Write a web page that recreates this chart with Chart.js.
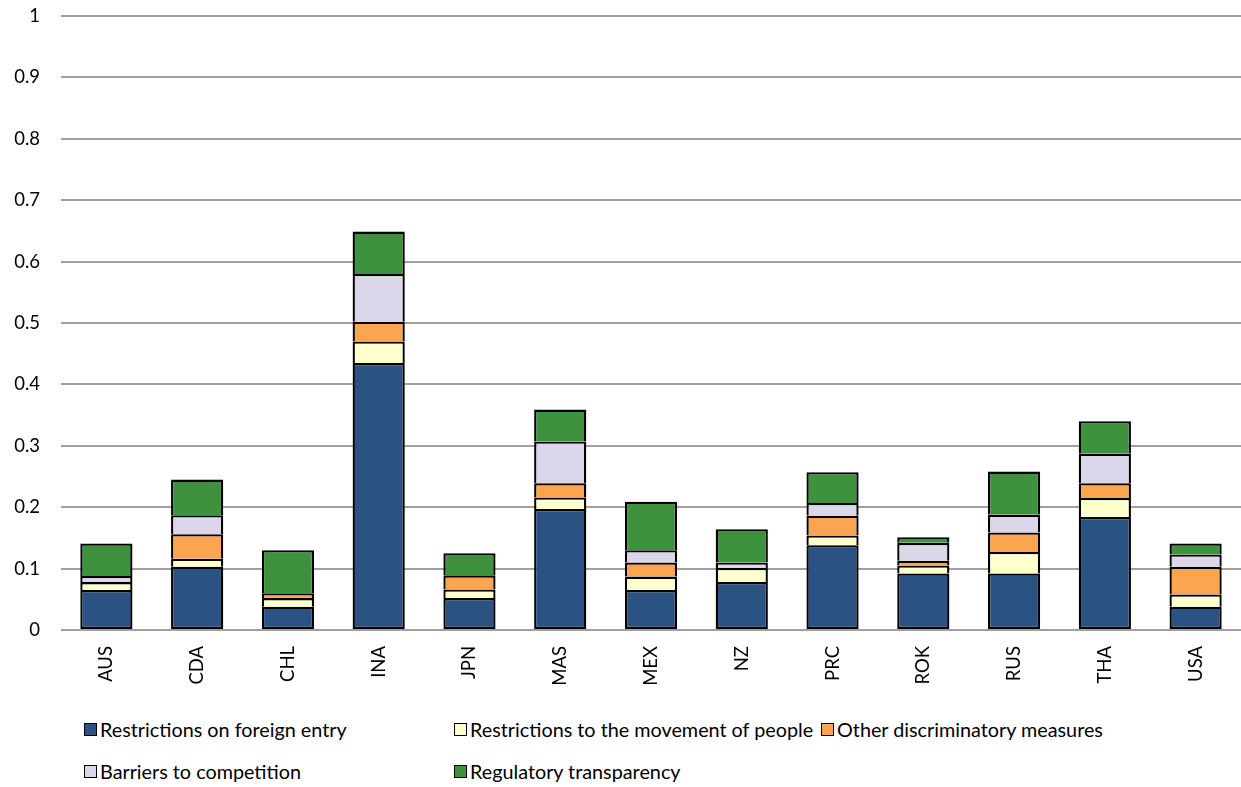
<!DOCTYPE html>
<html>
<head>
<meta charset="utf-8">
<script src="https://cdn.jsdelivr.net/npm/chart.js@4.4.1/dist/chart.umd.min.js"></script>
<style>
  html, body { margin: 0; padding: 0; background: #fff; overflow: hidden; }
  #wrap { position: relative; width: 1241px; height: 787px; overflow: hidden; }
  #chartBox { position: absolute; left: 0; top: -16px; width: 1241px; height: 716px; }
  .leg { position: absolute; font-family: Lato, "Open Sans", sans-serif; font-size: 19.8px; color: #000; white-space: nowrap; display: flex; align-items: center; }
  .leg .sw { width: 11px; height: 11px; border: 1.5px solid #000; margin-right: 3px; box-sizing: content-box; }
</style>
</head>
<body>
<div id="wrap">
  <div id="chartBox"><canvas id="c"></canvas></div>
</div>
<script>
const categories = ["AUS","CDA","CHL","INA","JPN","MAS","MEX","NZ","PRC","ROK","RUS","THA","USA"];
const seriesNames = [
  "Restrictions on foreign entry",
  "Restrictions to the movement of people",
  "Other discriminatory measures",
  "Barriers to competition",
  "Regulatory transparency"
];
const foreignEntry   = [0.065, 0.103, 0.038, 0.435, 0.052, 0.197, 0.065, 0.078, 0.138, 0.092, 0.092, 0.184, 0.038];
const movementPeople = [0.013, 0.013, 0.014, 0.035, 0.014, 0.019, 0.022, 0.023, 0.016, 0.013, 0.035, 0.031, 0.020];
const otherDiscrim   = [0.000, 0.040, 0.008, 0.032, 0.023, 0.023, 0.023, 0.000, 0.032, 0.008, 0.032, 0.024, 0.045];
const barriersComp   = [0.010, 0.031, 0.000, 0.078, 0.000, 0.068, 0.020, 0.009, 0.021, 0.029, 0.029, 0.048, 0.020];
const regTransp      = [0.053, 0.058, 0.070, 0.069, 0.036, 0.052, 0.079, 0.054, 0.050, 0.009, 0.070, 0.053, 0.018];
const yTicks = [0, 0.1, 0.2, 0.3, 0.4, 0.5, 0.6, 0.7, 0.8, 0.9, 1];

const colors = ["#2A5283", "#FFFFCC", "#FCA550", "#DCD6EA", "#3E923D"];
const seriesData = [foreignEntry, movementPeople, otherDiscrim, barriersComp, regTransp];

const FONT = "Lato, 'Open Sans', sans-serif";

const datasets = seriesData.map((d, i) => ({
  label: seriesNames[i],
  data: d,
  backgroundColor: colors[i],
  borderColor: "#000",
  borderWidth: (ctx) => (ctx.raw === 0 ? 0 : 2.3),
  borderSkipped: i === 0 ? false : "bottom",
  barPercentage: 0.575,
  categoryPercentage: 1.0
}));

new Chart(document.getElementById("c"), {
  type: "bar",
  data: { labels: categories, datasets },
  options: {
    responsive: true,
    maintainAspectRatio: false,
    animation: false,
    layout: { padding: { top: 0, right: 0, left: 0, bottom: 0 } },
    plugins: { legend: { display: false }, tooltip: { enabled: false } },
    scales: {
      x: {
        stacked: true,
        grid: { display: false, drawTicks: false },
        border: { display: false },
        ticks: { color: "#000", font: { family: FONT, size: 18.5 }, minRotation: 90, maxRotation: 90, padding: 16, autoSkip: false },
        afterFit: (s) => { s.height = 70; }
      },
      y: {
        stacked: true,
        min: 0, max: 1,
        afterBuildTicks: (s) => { s.ticks = yTicks.map(v => ({ value: v })); },
        grid: { color: "#A0A0A0", lineWidth: 2, drawTicks: false },
        border: { display: false },
        ticks: { color: "#000", font: { family: FONT, size: 18.5 }, padding: 21, callback: (v) => String(v) },
        afterFit: (s) => { s.width = 61; }
      }
    }
  }
});

// HTML legend in Excel-like column layout
const legPos = [[84, 729], [454, 729], [821, 729], [84, 771], [454, 771]];
const wrap = document.getElementById("wrap");
seriesNames.forEach((name, i) => {
  const el = document.createElement("div");
  el.className = "leg";
  el.style.left = legPos[i][0] + "px";
  el.style.top = (legPos[i][1] - 12) + "px";
  const sw = document.createElement("span");
  sw.className = "sw";
  sw.style.background = colors[i];
  const tx = document.createElement("span");
  tx.textContent = name;
  el.appendChild(sw); el.appendChild(tx);
  wrap.appendChild(el);
});
</script>
</body>
</html>
